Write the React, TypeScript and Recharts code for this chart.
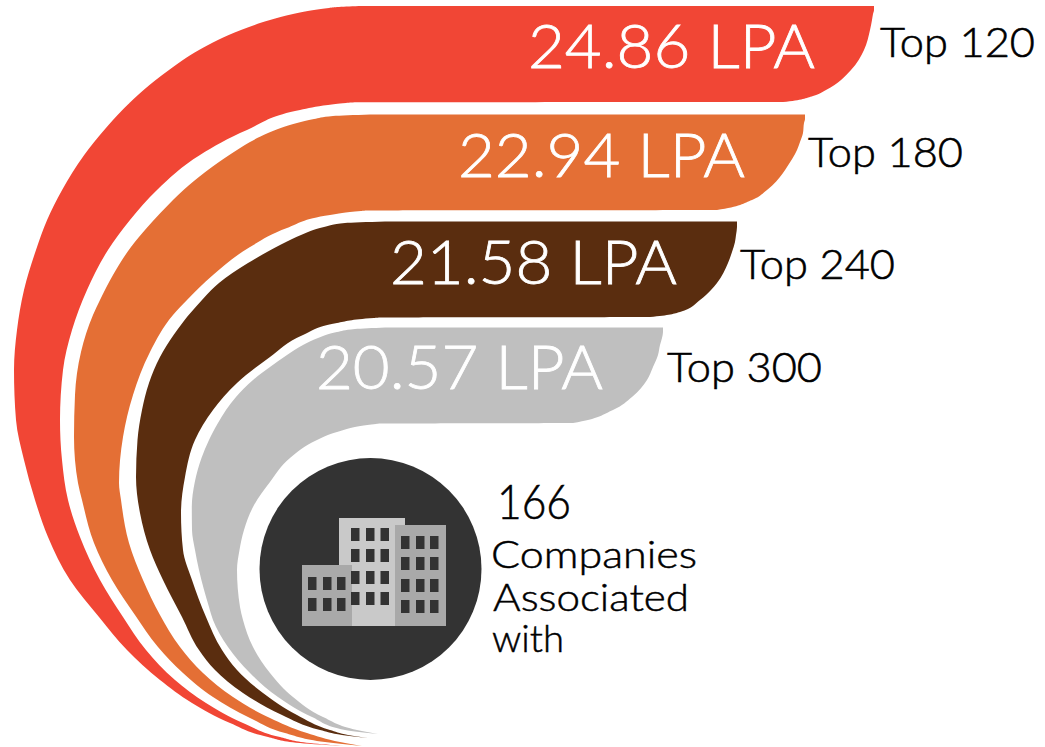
import { ComposedChart, Area, Scatter, XAxis, YAxis, ReferenceDot, ReferenceArea } from 'recharts';

// Each band is read row by row down the picture: at height y it runs from left to right.
const redY = [6, 7, 8, 10, 14, 20, 30, 50, 70, 90, 96, 102, 102.3, 103, 105, 110, 130, 155, 190, 220, 250, 290, 330, 370, 420, 460, 500, 537, 580, 617, 650, 680, 703, 723, 737, 743, 746];
const redLeft = [362, 339, 329, 314, 293, 270, 241, 199, 169, 143.6, 136.9, 130.5, 130.2, 129.5, 127.4, 122.4, 104.2, 84.2, 62.1, 47.1, 36, 24, 17, 14, 16, 24, 35, 48, 70, 99, 127, 160, 192, 230, 268, 300, 345];
const redRight = [874, 874, 874, 874, 873, 872, 870, 864, 851, 826, 813, 783, 357, 346, 328, 300, 247, 200, 157, 130, 108, 87, 72, 63, 60, 62, 68, 80, 100, 123, 146, 175, 206, 243, 280, 310, 345];

const orangeY = [114.5, 116, 119, 123, 133, 142, 150, 167, 173, 190, 200, 210, 210.5, 211, 215, 228, 247, 275, 300, 315, 352, 395, 437, 483, 500, 543, 580, 615, 647, 673, 697, 718, 733, 742, 746];
const orangeLeft = [370, 333, 314, 297, 268, 250, 237, 212, 204, 183.5, 173, 163.3, 162.8, 162.3, 158.5, 146.7, 131, 113, 100, 93, 81, 75, 74, 78, 82, 94, 112, 135, 158, 183, 213, 250, 285, 325, 362];
const orangeRight = [805, 805, 805, 804, 803, 800, 797, 787, 783, 767, 752, 717, 368, 361, 330, 287, 250, 213, 187, 173, 150, 133, 123, 119, 121, 129, 143, 160, 180, 203, 233, 270, 307, 340, 362];

const brownY = [221.5, 223, 227, 235, 242, 252, 263, 283, 290, 300, 312, 317, 317.5, 318, 323, 335, 357, 383, 410, 440, 477, 513, 550, 580, 617, 650, 670, 693, 715, 730, 735, 738];
const brownLeft = [385, 345, 324, 301, 286, 267, 248, 219, 211.3, 202, 191.3, 187, 186.6, 186.2, 182.4, 173.6, 160, 149, 142, 137.5, 136, 140, 150, 163, 182, 199, 215, 243, 282, 320, 342, 368];
const brownRight = [737, 737, 737, 736, 735, 732, 728, 717, 711, 700, 680, 650, 382, 374, 337, 303, 270, 237, 213, 195, 185, 181, 183, 192, 206, 222, 237, 263, 297, 330, 348, 368];

const greyY = [327.5, 329, 332, 338, 345, 355, 367, 380, 397, 410, 423, 423.5, 424, 432, 440, 458, 482, 507, 530, 550, 570, 607, 620, 647, 673, 697, 717, 730, 734];
const greyLeft = [385, 355, 337, 318, 303, 287, 270, 253, 236, 226, 218, 217.7, 217.4, 213, 209, 201.5, 194.8, 191.8, 192, 195, 199, 209, 213, 228, 250, 278, 312, 345, 378];
const greyRight = [663, 663, 663, 662, 660, 658, 653, 647, 632, 613, 573, 381, 376, 337, 317, 290, 270, 253, 244, 239.5, 237, 240, 243, 253, 270, 293, 323, 357, 378];

const salaries = ['24.86 LPA', '22.94 LPA', '21.58 LPA', '20.57 LPA'];
const salaryX = [528, 458, 390, 316];
const salaryY = [68, 177, 284, 389];

const tiers = ['Top 120', 'Top 180', 'Top 240', 'Top 300'];
const tierX = [880, 808, 740, 667];
const tierY = [57, 167, 279, 382];

const captionLines = ['Companies', 'Associated', 'with'];
const captionX = [491, 493, 492];
const captionY = [568, 611, 652];
const captionW = [206, 196, 72];

// Building icon
const towers = [
  { x1: 339, x2: 405, y1: 518, y2: 626, fill: '#c9c9c9' },
  { x1: 395, x2: 446, y1: 525, y2: 626, fill: '#a9a9a9' },
  { x1: 302, x2: 352, y1: 565, y2: 626, fill: '#a9a9a9' },
];
const windowBlocks = [
  { cols: [351, 366, 380.5], rows: [528, 549, 571, 592] },
  { cols: [401, 416, 430], rows: [536, 557, 579, 600] },
  { cols: [308, 323, 337], rows: [577, 598] },
];

const toRows = (y: number[], left: number[], right: number[]) =>
  y.map((v, i) => ({ y: v, range: [left[i], right[i]] }));

const BANDS = [
  { key: 'red', fill: '#f14635', rows: toRows(redY, redLeft, redRight) },
  { key: 'orange', fill: '#e46f35', rows: toRows(orangeY, orangeLeft, orangeRight) },
  { key: 'brown', fill: '#5a2d0f', rows: toRows(brownY, brownLeft, brownRight) },
  { key: 'grey', fill: '#bfbfbf', rows: toRows(greyY, greyLeft, greyRight) },
];

const FONT = 'Lato, "Open Sans", sans-serif';

// Lato Light with a hairline stroke comes closest to the stroke weight of the original face
const labelShape = (size: number, fill: string, thicken: number) => (p: any) => (
  <text
    x={p.cx}
    y={p.cy}
    fontFamily={FONT}
    fontSize={size}
    fontWeight={300}
    fill={fill}
    stroke={fill}
    strokeWidth={thicken}
    textLength={p.payload.w}
    lengthAdjust="spacingAndGlyphs"
  >
    {p.payload.text}
  </text>
);

const salaryRows = salaries.map((text, i) => ({ text, x: salaryX[i], y: salaryY[i], w: 287 }));
const tierRows = tiers.map((text, i) => ({ text, x: tierX[i], y: tierY[i], w: 155 }));
const countRows = [{ text: '166', x: 497, y: 519, w: 74 }];
const captionRows = captionLines.map((text, i) => ({ text, x: captionX[i], y: captionY[i], w: captionW[i] }));

export default function App() {
  return (
    <div style={{ position: 'absolute', left: 0, top: 0, width: 1045, height: 747 }}>
      <ComposedChart width={1045} height={747} layout="vertical" margin={{ top: 0, right: 0, bottom: 0, left: 0 }}>
        <XAxis type="number" hide domain={[0, 1045]} />
        <YAxis type="number" dataKey="y" hide domain={[0, 747]} />
        {BANDS.map(b => (
          <Area
            key={b.key}
            data={b.rows}
            dataKey="range"
            type="monotone"
            stroke="none"
            fill={b.fill}
            fillOpacity={1}
            dot={false}
            activeDot={false}
            isAnimationActive={false}
          />
        ))}
        <ReferenceDot x={370.5} y={569} r={111} fill="#333333" stroke="none" ifOverflow="visible" zIndex={150} />
        {towers.map((t, i) => (
          <ReferenceArea key={i} {...t} stroke="none" fillOpacity={1} ifOverflow="visible" zIndex={700} />
        ))}
        {windowBlocks.flatMap((b, bi) =>
          b.cols.flatMap((c, ci) =>
            b.rows.map((r, ri) => (
              <ReferenceArea
                key={`${bi}-${ci}-${ri}`}
                x1={c}
                x2={c + 8.5}
                y1={r}
                y2={r + 13}
                fill="#333333"
                stroke="none"
                fillOpacity={1}
                ifOverflow="visible"
                zIndex={800}
              />
            ))
          )
        )}
        <Scatter data={salaryRows} dataKey="x" shape={labelShape(62, '#ffffff', 0.8)} isAnimationActive={false} zIndex={900} />
        <Scatter data={tierRows} dataKey="x" shape={labelShape(42, '#000000', 0.6)} isAnimationActive={false} zIndex={900} />
        <Scatter data={countRows} dataKey="x" shape={labelShape(48, '#000000', 0.6)} isAnimationActive={false} zIndex={900} />
        <Scatter data={captionRows} dataKey="x" shape={labelShape(38, '#000000', 0.5)} isAnimationActive={false} zIndex={900} />
      </ComposedChart>
    </div>
  );
}
